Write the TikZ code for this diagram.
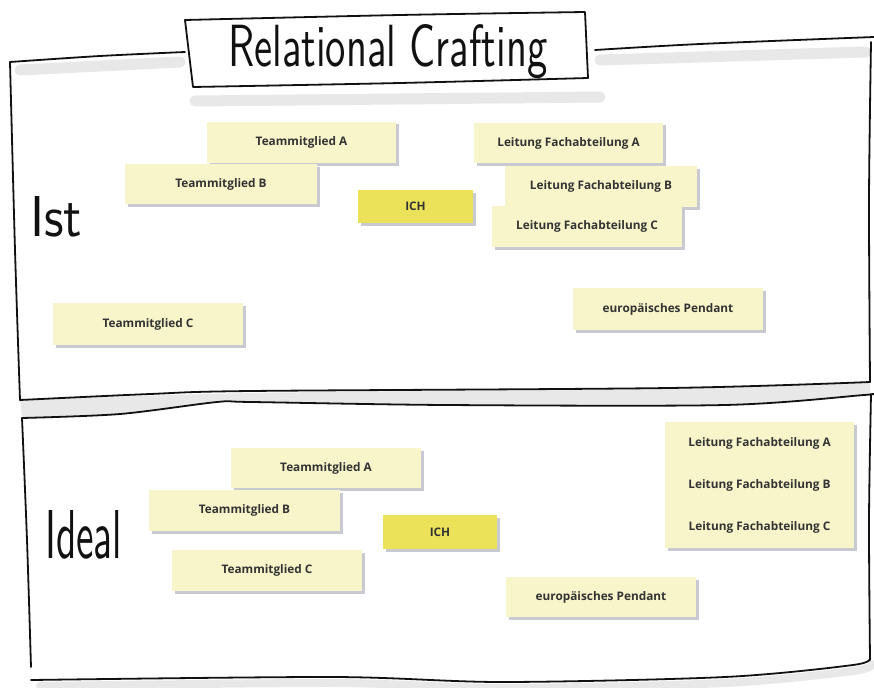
\documentclass[tikz,border=0pt]{standalone}
\usepackage{fontspec}
\setmainfont{Open Sans}
\newfontfamily\notefont{Open Sans}
\newfontfamily\handfont{lmsans10-regular.otf}
\definecolor{notey}{HTML}{F8F5CA}
\definecolor{ichy}{HTML}{EBE25A}
\definecolor{nshadow}{HTML}{C9C9D2}
\definecolor{frameshade}{HTML}{E8E8E8}
\definecolor{ntext}{HTML}{333333}
\definecolor{ink}{HTML}{111111}
\begin{document}
\begin{tikzpicture}[x=1pt,y=-1pt,
  note/.style={rectangle, fill=notey, inner sep=0pt, minimum width=190pt, minimum height=40pt,
    font=\notefont\bfseries\fontsize{11.8}{14}\selectfont, text=ntext,
    preaction={fill=nshadow, transform canvas={xshift=2.5pt,yshift=-2.5pt}}},
  ichnote/.style={note, fill=ichy, minimum width=115pt, minimum height=34pt},
  inkline/.style={draw=ink, line width=1.8pt, line cap=round, line join=round},
  shade/.style={draw=frameshade, line width=11pt, line cap=round},
  hand/.style={inner sep=0pt, text=ink, font=\handfont}
]
\useasboundingbox (0,0) rectangle (874,687);
\fill[white] (0,0) rectangle (874,687);

% ---------- shadows of the frame ----------
\draw[shade] (20,70) -- (180,62);
\draw[shade] (600,60) -- (866,52);
\draw[shade] (195,101) -- (600,97);
\fill[frameshade] plot[smooth] coordinates {(20,400) (251,393) (669,388) (870,382)}
  -- plot[smooth] coordinates {(870,394) (864,395) (725,405) (446,405) (251,402) (217,402) (120,414) (22,418)} -- cycle;
\draw[shade, line width=8pt] plot[smooth] coordinates {(40,686) (334,683) (502,688) (725,683) (853,671) (872,664)};

% ---------- title box ----------
\draw[inkline] plot[smooth] coordinates {(185,20) (400,15) (585,12)}
  -- (588,78) -- plot[smooth] coordinates {(588,78) (400,83) (193,87)} -- cycle;
\node[hand, anchor=base west] (title) at (228,67) {\resizebox{319pt}{42pt}{Relational Crafting}};

% ---------- Ist frame ----------
\draw[inkline] plot[smooth] coordinates {(185,52) (100,56) (10,62)};
\draw[inkline] plot[smooth] coordinates {(10,62) (15,250) (20,400)};
\draw[inkline] plot[smooth] coordinates {(595,50) (700,44) (874,37)};
\draw[inkline] plot[smooth] coordinates {(871,42) (869,200) (870,382)};
\draw[inkline] plot[smooth] coordinates {(20,400) (150,394) (251,391) (669,388) (870,382)};
\draw[inkline] plot[smooth] coordinates {(22,418) (120,414) (217,402) (251,402) (446,405) (725,405) (864,395) (872,394)};

% ---------- Ideal frame ----------
\draw[inkline] plot[smooth] coordinates {(22,418) (27,540) (31,667)};
\draw[inkline] plot[smooth] coordinates {(871,394) (869,520) (870,660)};
\draw[inkline] plot[smooth] coordinates {(31,680) (334,677) (502,682) (725,677) (853,665) (870,658)};

% ---------- handwritten labels ----------
\node[hand, anchor=base west] (ist) at (30,236) {\resizebox{52pt}{40pt}{Ist}};
\node[hand, anchor=base west] (ideal) at (45,558) {\resizebox{77pt}{48pt}{Ideal}};

% ---------- Ist notes ----------
\node[note, minimum width=189pt, minimum height=41pt] (istTA) at (301.5,142.5) {Teammitglied A};
\node[note, minimum width=192pt] (istTB) at (221,184) {Teammitglied B};
\node[ichnote, minimum height=33pt] (istICH) at (415.5,206.5) {ICH};
\node[note, minimum width=189pt] (istLA) at (568.5,143) {Leitung Fachabteilung A};
\node[note, minimum width=192pt, minimum height=41pt] (istLB) at (601,186.5) {Leitung Fachabteilung B};
\node[note, minimum height=41pt] (istLC) at (587,226.5) {Leitung Fachabteilung C};
\node[note, minimum height=42pt] (istTC) at (148,324) {Teammitglied C};
\node[note, minimum height=42pt] (istEP) at (668,309) {europäisches Pendant};

% ---------- Ideal notes ----------
\node[note] (idTA) at (326,468) {Teammitglied A};
\node[note, minimum width=191pt, minimum height=41pt] (idTB) at (244.5,510.5) {Teammitglied B};
\node[ichnote, minimum width=114pt] (idICH) at (440,532) {ICH};
\node[note, minimum height=41pt] (idTC) at (267,570.5) {Teammitglied C};
\node[note] (idEP) at (601,597) {europäisches Pendant};
\node[note, minimum width=189pt, minimum height=126pt, align=center] (idL) at (759.5,485)
  {Leitung Fachabteilung A\\[28pt]Leitung Fachabteilung B\\[28pt]Leitung Fachabteilung C};
\end{tikzpicture}
\end{document}
